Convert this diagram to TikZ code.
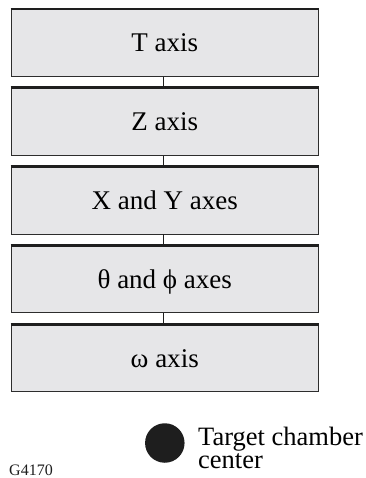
\documentclass[tikz,border=0pt]{standalone}
\usepackage{fontspec}
\setmainfont{Liberation Serif}
\begin{document}
\begin{tikzpicture}[x=1pt,y=-1pt,
  axisbox/.style={draw=boxline, line width=0.8pt, fill=boxfill, rectangle,
    minimum width=307.5pt, minimum height=67pt, inner sep=0pt,
    font=\fontsize{27}{30}\selectfont, text height=18pt, text depth=0pt},
  topbar/.style={draw=barcol, line width=2.7pt},
  link/.style={draw=barcol, line width=1.3pt},
  lbl/.style={anchor=base west, inner sep=0pt, font=\fontsize{26.5}{30}\selectfont}]
\definecolor{boxfill}{RGB}{230,230,232}
\definecolor{boxline}{RGB}{45,45,45}
\definecolor{barcol}{RGB}{30,30,30}
\useasboundingbox (0,0) rectangle (365,478);
\node[axisbox] (b1) at (164.75,42.8) {T axis};
\node[axisbox] (b2) at (164.75,121.65) {Z axis};
\node[axisbox] (b3) at (164.75,200.5) {X and Y axes};
\node[axisbox] (b4) at (164.75,279.35) {θ and ϕ axes};
\node[axisbox] (b5) at (164.75,358.2) {ω axis};
\foreach \b in {b1,b2,b3,b4,b5}
  \draw[topbar] (\b.north west) -- (\b.north east);
\draw[link] ([xshift=-1pt]b1.south) -- ([xshift=-1pt]b2.north);
\draw[link] ([xshift=-1pt]b2.south) -- ([xshift=-1pt]b3.north);
\draw[link] ([xshift=-1pt]b3.south) -- ([xshift=-1pt]b4.north);
\draw[link] ([xshift=-1pt]b4.south) -- ([xshift=-1pt]b5.north);
\node[circle, fill=barcol, minimum size=39.5pt, inner sep=0pt] (tcc) at (164.8,443) {};
\node[lbl] (t1) at (198,445) {Target chamber};
\node[lbl] (t2) at (198,468) {center};
\node[anchor=base west, inner sep=0pt, font=\fontsize{16}{18}\selectfont, text=barcol] (g) at (9,475) {G4170};
\end{tikzpicture}
\end{document}
